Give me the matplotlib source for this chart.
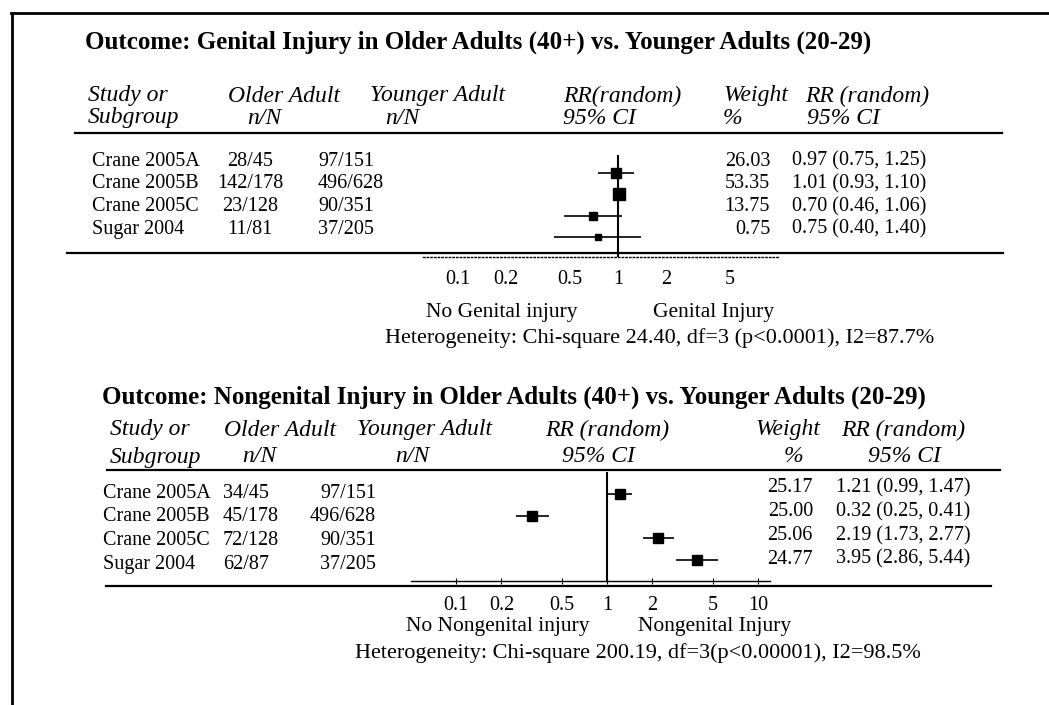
import numpy as np
import matplotlib.pyplot as plt
from matplotlib.lines import Line2D

''' DATA '''

studies = ['Crane 2005A', 'Crane 2005B', 'Crane 2005C', 'Sugar 2004']

# Outcome 1: genital injury
g_older = ['28/45', '142/178', '23/128', '11/81']
g_younger = ['97/151', '496/628', '90/351', '37/205']
g_rr = [0.97, 1.01, 0.70, 0.75]
g_lo = [0.75, 0.93, 0.46, 0.40]
g_hi = [1.25, 1.10, 1.06, 1.40]
g_weight = [26.03, 53.35, 13.75, 0.75]
g_ticks = [0.1, 0.2, 0.5, 1, 2, 5]
g_title = 'Outcome: Genital Injury in Older Adults (40+) vs. Younger Adults (20-29)'
g_het = 'Heterogeneity: Chi-square 24.40, df=3 (p<0.0001), I2=87.7%'

# Outcome 2: nongenital injury
n_older = ['34/45', '45/178', '72/128', '62/87']
n_younger = ['97/151', '496/628', '90/351', '37/205']
n_rr = [1.21, 0.32, 2.19, 3.95]
n_lo = [0.99, 0.25, 1.73, 2.86]
n_hi = [1.47, 0.41, 2.77, 5.44]
n_weight = [25.17, 25.00, 25.06, 24.77]
n_ticks = [0.1, 0.2, 0.5, 1, 2, 5, 10]
n_title = 'Outcome: Nongenital Injury in Older Adults (40+) vs. Younger Adults (20-29)'
n_het = 'Heterogeneity: Chi-square 200.19, df=3(p<0.00001), I2=98.5%'


''' HELPERS '''

W, H = 1049, 705
plt.rcParams['font.family'] = ['Liberation Serif', 'DejaVu Serif']
fig = plt.figure(figsize=(W / 100, H / 100), dpi=100)

ROW = 14.5
HEAD = 17
TITLE = 18
FOOT = 16


def put(x, y, s, size=ROW, **kw):
    fig.text(x / W, 1 - y / H, s, va='center', fontsize=size, **kw)


def hline(x0, x1, y, lw=1.6, **kw):
    fig.add_artist(Line2D([x0 / W, x1 / W], [1 - y / H, 1 - y / H], color='black',
                          lw=lw, transform=fig.transFigure, **kw))


def vline(x, y0, y1, lw=2.0):
    fig.add_artist(Line2D([x / W, x / W], [1 - y0 / H, 1 - y1 / H], color='black',
                          lw=lw, transform=fig.transFigure))


def fmt_ci(r, l, h):
    return f'{r:.2f} ({l:.2f}, {h:.2f})'


def forest(rr, lo, hi, weight, ticks, xlim, one_px, dec_px, top, bottom,
           row0, step, spine_style, ticklen):
    left = one_px - dec_px * np.log10(1 / xlim[0])
    right = one_px + dec_px * np.log10(xlim[1])
    ax = fig.add_axes([left / W, 1 - bottom / H, (right - left) / W, (bottom - top) / H])
    ax.patch.set_alpha(0)
    ax.set_xscale('log')
    ax.set_xlim(xlim)
    ax.set_ylim((bottom - row0) / step, (top - row0) / step)
    rows = np.arange(len(rr))
    ax.hlines(rows, lo, hi, color='black', lw=1.2)
    for i in rows:
        ax.plot(rr[i], i, marker='s', color='black', linestyle='none',
                ms=(5 + np.sqrt(weight[i])) * 0.72)
    ax.axvline(1, color='black', lw=1.5)
    for s in ['top', 'left', 'right']:
        ax.spines[s].set_visible(False)
    ax.spines['bottom'].set_linestyle(spine_style)
    ax.spines['bottom'].set_linewidth(1.0)
    ax.set_yticks([])
    ax.set_xticks(ticks)
    ax.set_xticklabels([f'{t:g}' for t in ticks])
    ax.minorticks_off()
    ax.tick_params(axis='x', length=ticklen, direction='inout', pad=9, labelsize=ROW)
    return ax


''' FRAME '''

hline(11, W, 13, lw=2)
vline(12, 13, H)


''' PANEL 1: GENITAL INJURY '''

put(85, 42, g_title, size=TITLE, fontweight='bold')
put(88, 96, 'Study or', size=HEAD, style='italic')
put(88, 118, 'Subgroup', size=HEAD, style='italic')
put(228, 96, 'Older Adult', size=HEAD, style='italic')
put(247, 118, 'n/N', size=HEAD, style='italic')
put(370, 96, 'Younger Adult', size=HEAD, style='italic')
put(385, 118, 'n/N', size=HEAD, style='italic')
put(563, 96, 'RR(random)', size=HEAD, style='italic')
put(563, 118, '95% CI', size=HEAD, style='italic')
put(723, 96, 'Weight', size=HEAD, style='italic')
put(723, 118, '%', size=HEAD, style='italic')
put(805, 96, 'RR (random)', size=HEAD, style='italic')
put(807, 118, '95% CI', size=HEAD, style='italic')
hline(75, 1002, 133)

for i, name in enumerate(studies):
    y = 161 + 22.7 * i
    put(92, y, name)
    put(250, y, g_older[i], ha='center')
    put(318, y, g_younger[i])
    put(770, y, f'{g_weight[i]:.2f}', ha='right')
    put(792, y, fmt_ci(g_rr[i], g_lo[i], g_hi[i]))

forest(g_rr, g_lo, g_hi, g_weight, g_ticks, (0.06, 10), 618, 160, 155, 257,
       173, 21.3, ':', 0)
hline(67, 1003, 253)

put(502, 313, 'No Genital injury', ha='center', size=15.5)
put(714, 313, 'Genital Injury', ha='center', size=15.5)
put(385, 338, g_het, size=FOOT)


''' PANEL 2: NONGENITAL INJURY '''

put(102, 397, n_title, size=TITLE, fontweight='bold')
put(110, 430, 'Study or', size=HEAD, style='italic')
put(110, 457, 'Subgroup', size=HEAD, style='italic')
put(224, 430, 'Older Adult', size=HEAD, style='italic')
put(242, 457, 'n/N', size=HEAD, style='italic')
put(357, 430, 'Younger Adult', size=HEAD, style='italic')
put(395, 457, 'n/N', size=HEAD, style='italic')
put(545, 430, 'RR (random)', size=HEAD, style='italic')
put(562, 457, '95% CI', size=HEAD, style='italic')
put(755, 430, 'Weight', size=HEAD, style='italic')
put(784, 457, '%', size=HEAD, style='italic')
put(841, 430, 'RR (random)', size=HEAD, style='italic')
put(868, 457, '95% CI', size=HEAD, style='italic')
hline(107, 1000, 470)

for i, name in enumerate(studies):
    y = 493 + 23.7 * i
    put(103, y, name)
    put(223, y, n_older[i])
    put(376, y, n_younger[i], ha='right')
    put(813, y - 5, f'{n_weight[i]:.2f}', ha='right')
    put(836, y - 5, fmt_ci(n_rr[i], n_lo[i], n_hi[i]))

forest(n_rr, n_lo, n_hi, n_weight, n_ticks, (0.05, 12), 607, 151, 472, 581,
       494, 22, '-', 4)
hline(106, 991, 586)

put(498, 627, 'No Nongenital injury', ha='center', size=15.5)
put(715, 627, 'Nongenital Injury', ha='center', size=15.5)
put(355, 653, n_het, size=FOOT)

fig.savefig('out.png', dpi=100, facecolor='white')
